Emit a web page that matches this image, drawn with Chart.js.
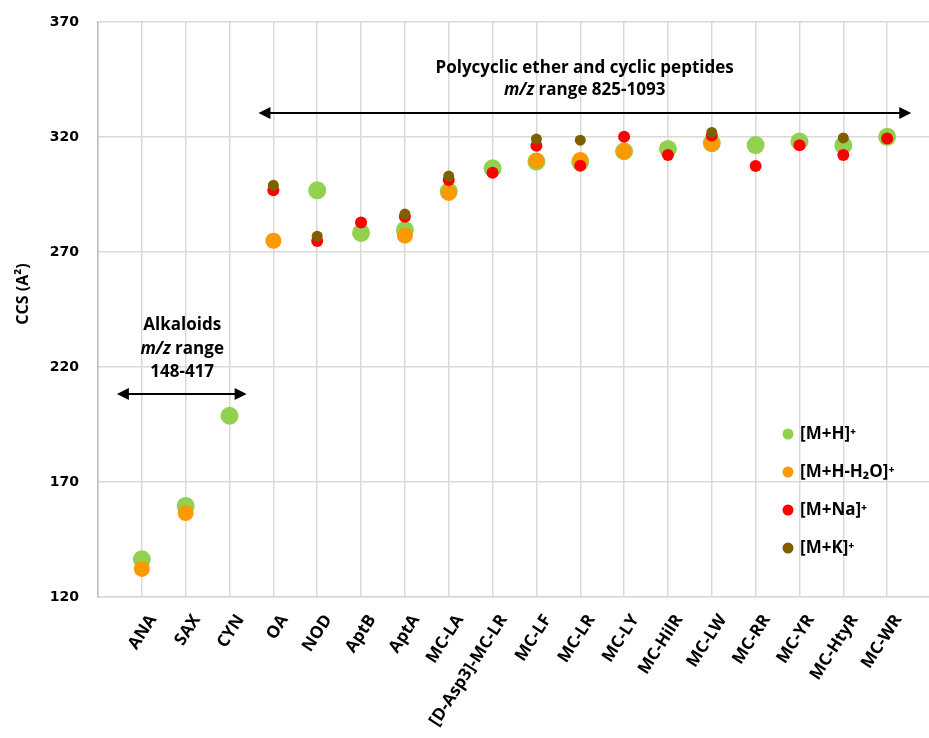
<!DOCTYPE html>
<html>
<head>
<meta charset="utf-8">
<title>CCS by toxin</title>
<script src="https://cdn.jsdelivr.net/npm/chart.js@4.4.1/dist/chart.umd.min.js"></script>
<style>
  html, body { margin: 0; padding: 0; background: #ffffff; overflow: hidden; }
  #wrap { width: 940px; height: 738px; }
</style>
</head>
<body>
<div id="wrap"><canvas id="c" width="940" height="738"></canvas></div>
<script>
// Toxin names along the x axis (position 1..18)
const categories = ['ANA', 'SAX', 'CYN', 'OA', 'NOD', 'AptB', 'AptA', 'MC-LA', '[D-Asp3]-MC-LR',
  'MC-LF', 'MC-LR', 'MC-LY', 'MC-HilR', 'MC-LW', 'MC-RR', 'MC-YR', 'MC-HtyR', 'MC-WR'];

// CCS values (Å²) per adduct; null where the adduct was not observed
const ccsMH    = [136.4, 159.6, 198.8, null, 296.8, 278.3, 279.6, 296.4, 306.4, 309.3, 309.1, 313.8, 314.8, 317.3, 316.5, 318.0, 316.4, 320.1];
const ccsMHH2O = [132.2, 156.5, null, 274.9, null, null, 277.1, 295.7, null, 309.7, 310.0, 313.6, null, 317.0, null, null, null, null];
const ccsMNa   = [null, null, null, 296.8, 274.8, 282.8, 285.3, 301.3, 304.5, 316.2, 307.5, 320.1, 312.2, 320.6, 307.4, 316.4, 312.2, 319.3];
const ccsMK    = [null, null, null, 299.0, 276.9, null, 286.5, 303.0, null, 319.1, 318.6, null, null, 322.0, null, null, 319.6, null];

// Y axis ticks
const yTicks = [120, 170, 220, 270, 320, 370];

const seriesNames = ['[M+H]⁺', '[M+H-H₂O]⁺', '[M+Na]⁺', '[M+K]⁺'];
const seriesColors = ['#92D050', '#FF9900', '#FF0000', '#7F6000'];
const seriesRadius = [9, 8, 6, 5.5];
const seriesValues = [ccsMH, ccsMHH2O, ccsMNa, ccsMK];

function toPoints(vals) {
  const pts = [];
  vals.forEach((v, i) => { if (v !== null) pts.push({ x: i + 1, y: v }); });
  return pts;
}

// later series are painted over earlier ones (lower order = on top)
const datasets = seriesValues.map((vals, k) => ({
  label: seriesNames[k],
  data: toPoints(vals),
  order: seriesValues.length - 1 - k,
  backgroundColor: seriesColors[k],
  borderColor: seriesColors[k],
  borderWidth: 0,
  pointRadius: seriesRadius[k],
  pointHoverRadius: seriesRadius[k]
}));

const labelFont = '"Open Sans", Lato, "Liberation Sans", sans-serif';

// Range annotations, in data coordinates
const rangeNotes = [
  { lines: [['Polycyclic ether and cyclic peptides'], ['m/z', ' range 825-1093']], cx: 11.1, lineY: [350.0, 340.4],
    arrow: { x1: 3.66, x2: 18.55, y: 330.4 } },
  { lines: [['Alkaloids'], ['m/z', ' range'], ['148-417']], cx: 1.92, lineY: [238.3, 227.8, 217.8],
    arrow: { x1: 0.43, x2: 3.39, y: 208.3 } }
];

function drawArrow(ctx, x1, x2, y) {
  const head = 12, half = 6;
  ctx.save();
  ctx.strokeStyle = '#000';
  ctx.fillStyle = '#000';
  ctx.lineWidth = 2;
  ctx.beginPath();
  ctx.moveTo(x1 + head - 2, y);
  ctx.lineTo(x2 - head + 2, y);
  ctx.stroke();
  ctx.beginPath();
  ctx.moveTo(x1, y); ctx.lineTo(x1 + head, y - half); ctx.lineTo(x1 + head, y + half); ctx.closePath();
  ctx.fill();
  ctx.beginPath();
  ctx.moveTo(x2, y); ctx.lineTo(x2 - head, y - half); ctx.lineTo(x2 - head, y + half); ctx.closePath();
  ctx.fill();
  ctx.restore();
}

const notesPlugin = {
  id: 'rangeNotes',
  afterDraw(chart) {
    const ctx = chart.ctx, xs = chart.scales.x, ys = chart.scales.y;
    const bold = 'bold 17px ' + labelFont;
    const boldItalic = 'italic bold 17px ' + labelFont;
    ctx.save();
    ctx.fillStyle = '#000';
    ctx.textBaseline = 'middle';
    ctx.textAlign = 'left';
    rangeNotes.forEach(n => {
      const cx = xs.getPixelForValue(n.cx);
      n.lines.forEach((parts, li) => {
        const y = ys.getPixelForValue(n.lineY[li]);
        // first part of a two-part line is the italic "m/z"
        const fonts = parts.length === 2 ? [boldItalic, bold] : [bold];
        let total = 0;
        parts.forEach((p, j) => { ctx.font = fonts[j]; total += ctx.measureText(p).width; });
        let x = cx - total / 2;
        parts.forEach((p, j) => { ctx.font = fonts[j]; ctx.fillText(p, x, y); x += ctx.measureText(p).width; });
      });
      drawArrow(ctx, xs.getPixelForValue(n.arrow.x1), xs.getPixelForValue(n.arrow.x2), ys.getPixelForValue(n.arrow.y));
    });

    // vertical axis title
    ctx.save();
    ctx.translate(23, 294);
    ctx.rotate(-Math.PI / 2);
    ctx.textAlign = 'center';
    ctx.font = 'bold 16px ' + labelFont;
    ctx.fillText('CCS (A²)', 0, 0);
    ctx.restore();
    ctx.restore();
  }
};

// Legend placed inside the plot, lower right
const legendPlugin = {
  id: 'innerLegend',
  afterDraw(chart) {
    const ctx = chart.ctx;
    const x0 = 788, y0 = 434, step = 38;
    ctx.save();
    ctx.textBaseline = 'middle';
    ctx.textAlign = 'left';
    ctx.font = 'bold 17px ' + labelFont;
    seriesNames.forEach((name, i) => {
      const y = y0 + i * step;
      ctx.fillStyle = seriesColors[i];
      ctx.beginPath();
      ctx.arc(x0, y, 5.5, 0, Math.PI * 2);
      ctx.fill();
      ctx.fillStyle = '#000';
      ctx.fillText(name, x0 + 12, y);
    });
    ctx.restore();
  }
};

new Chart(document.getElementById('c'), {
  type: 'scatter',
  data: { datasets },
  options: {
    responsive: false,
    animation: false,
    events: [],
    layout: { padding: { top: 22, right: 0, bottom: 0, left: 0 } },
    plugins: { legend: { display: false }, tooltip: { enabled: false } },
    scales: {
      x: {
        type: 'linear',
        min: 0,
        max: 19,
        afterBuildTicks(scale) {
          scale.ticks = [];
          for (let i = 0; i <= 19; i++) scale.ticks.push({ value: i });
        },
        afterFit(scale) {
          scale.height = 141;
          scale.paddingLeft = 0;
          scale.paddingRight = 0;
        },
        grid: { color: '#D9D9D9', lineWidth: 1.5, drawTicks: false },
        border: { color: '#D9D9D9', width: 1.5 },
        ticks: {
          autoSkip: false,
          maxRotation: 57,
          minRotation: 57,
          padding: 14,
          labelOffset: 11,
          color: '#000',
          font: { family: labelFont, size: 17, weight: 'bold' },
          callback: v => (v >= 1 && v <= categories.length) ? categories[v - 1] : ''
        }
      },
      y: {
        min: yTicks[0],
        max: yTicks[yTicks.length - 1],
        afterBuildTicks(scale) { scale.ticks = yTicks.map(v => ({ value: v })); },
        afterFit(scale) {
          scale.width = 98;
          scale.paddingTop = 0;
          scale.paddingBottom = 0;
        },
        grid: { color: '#D9D9D9', lineWidth: 1.5, drawTicks: false },
        border: { color: '#BFBFBF', width: 1.5 },
        ticks: {
          padding: 19,
          color: '#000',
          font: { family: '"DejaVu Sans", Verdana, sans-serif', size: 14, weight: 'bold' }
        }
      }
    }
  },
  plugins: [notesPlugin, legendPlugin]
});
</script>
</body>
</html>
